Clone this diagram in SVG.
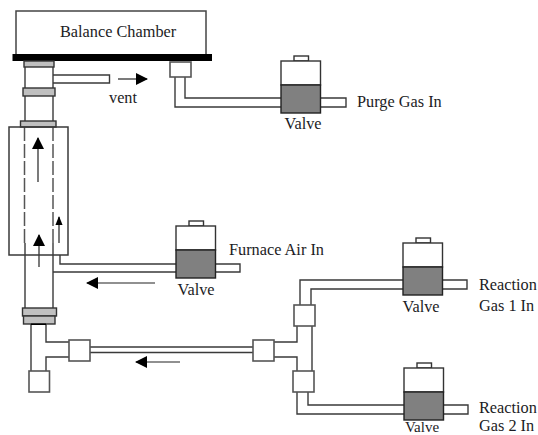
<svg xmlns="http://www.w3.org/2000/svg" width="538" height="435" viewBox="0 0 538 435">
<style>
text{font-family:"Liberation Serif","Times New Roman",serif;font-size:16.300px;fill:#1c1c24}
.m{text-anchor:middle}
.b{fill:#fff;stroke:#444;stroke-width:1.5}
.p{fill:none;stroke:#3a3a3a;stroke-width:1.4}
.s{fill:#fff;stroke:#555;stroke-width:1.6}
.c{fill:#c0c0c0;stroke:#333;stroke-width:1.4}
.d{fill:#808080;stroke:#222;stroke-width:1.4}
.v{fill:#fff;stroke:#333;stroke-width:1.4}
.a{fill:none;stroke:#222;stroke-width:1.2}
.dash{fill:none;stroke:#555;stroke-width:1.5;stroke-dasharray:14 3}
</style>
<defs>
<marker id="ah" viewBox="0 0 12 12" refX="11" refY="6" markerWidth="12" markerHeight="12" markerUnits="userSpaceOnUse" orient="auto"><path d="M0 0L12 6L0 12Z" fill="#000"/></marker>
<marker id="ahs" viewBox="0 0 10 8" refX="9" refY="4" markerWidth="9" markerHeight="8" markerUnits="userSpaceOnUse" orient="auto"><path d="M0 0L10 4L0 8Z" fill="#000"/></marker>
<g id="valve-shape">
<rect class="v" x="13" y="0" width="14.500" height="5"/>
<rect class="v" x="0" y="5" width="39.500" height="24"/>
<rect class="d" x="0" y="29" width="39.500" height="28"/>
</g>
</defs>
<g id="connectors">
<path class="p" d="M25 67V121M53 67V121M25 243V308M53 243V308"/>
<path class="dash" d="M24.500 127V243M53 127V243"/>
<path class="p" d="M53 75H109.500V83H53"/>
<path class="p" d="M175 77V107H281M185 77V98H281"/>
<path class="p" d="M321 98H346V107H321"/>
<path class="p" d="M60 255V264H176M53 272H176"/>
<path class="p" d="M215 264H240V272H215"/>
<path class="p" d="M31 324V371M46 324V342H69M46 371V357H69"/>
<path class="p" d="M90 347H253M90 352.500H253"/>
<path class="p" d="M274 342H297V326M274 357H297V371M312 326V371"/>
<path class="p" d="M300 305V280H403M311 305V289H403"/>
<path class="p" d="M442.500 280H467V289H442.500"/>
<path class="p" d="M297 392V414H404M308 392V405H404"/>
<path class="p" d="M443.500 405H468V414H443.500"/>
<path class="a" marker-end="url(#ah)" d="M118 79H147"/>
<path class="a" marker-end="url(#ah)" d="M38 182V138"/>
<path class="a" marker-end="url(#ah)" d="M39 267V235"/>
<path class="a" marker-end="url(#ahs)" d="M59 243V217"/>
<path class="a" marker-end="url(#ah)" d="M155 283H87"/>
<path class="a" marker-end="url(#ah)" d="M180 362H136"/>
</g>
<g id="balance-chamber">
<rect class="b" x="16" y="11" width="190" height="44"/>
<text x="60" y="37">Balance Chamber</text>
<rect x="12.500" y="54" width="199.500" height="7" fill="#000"/>
</g>
<g id="collars">
<rect class="c" x="24" y="61" width="30" height="6"/>
<rect class="c" x="23" y="88" width="32" height="8"/>
<rect class="c" x="20.500" y="121" width="35.500" height="6"/>
<rect class="c" x="22.500" y="308" width="34" height="8"/>
<rect class="c" x="23.500" y="316" width="31.500" height="8"/>
<rect x="31" y="323.500" width="15" height="1.500" fill="#000"/>
</g>
<g id="vent-label"><text x="109" y="103">vent</text></g>
<g id="furnace">
<path class="p" style="stroke-width:1.5" d="M9 127H68V255H9Z"/>
</g>
<g id="fitting-top"><rect class="s" x="170" y="62" width="21" height="15"/></g>
<g id="fitting-bottom"><rect class="s" x="29" y="371" width="20.500" height="21"/></g>
<g id="fitting-left"><rect class="s" x="69" y="340" width="21" height="21"/></g>
<g id="fitting-right"><rect class="s" x="253" y="340" width="21" height="21"/></g>
<g id="fitting-upper"><rect class="s" x="294" y="305" width="21" height="21"/></g>
<g id="fitting-lower"><rect class="s" x="293" y="371" width="21" height="21"/></g>
<g id="valve-purge">
<use href="#valve-shape" x="281" y="56"/>
<text class="m" x="303" y="129">Valve</text>
<text x="357" y="107">Purge Gas In</text>
</g>
<g id="valve-furnace">
<use href="#valve-shape" x="176" y="221"/>
<text class="m" x="196" y="295">Valve</text>
<text x="229" y="255">Furnace Air In</text>
</g>
<g id="valve-gas1">
<use href="#valve-shape" x="403" y="238"/>
<text class="m" x="421" y="312">Valve</text>
<text x="479" y="290">Reaction</text>
<text x="479" y="311">Gas 1 In</text>
</g>
<g id="valve-gas2">
<use href="#valve-shape" x="404" y="363"/>
<text class="m" x="422" y="431.500" style="font-size:15px">Valve</text>
<text x="479" y="413">Reaction</text>
<text x="479" y="431">Gas 2 In</text>
</g>
</svg>
